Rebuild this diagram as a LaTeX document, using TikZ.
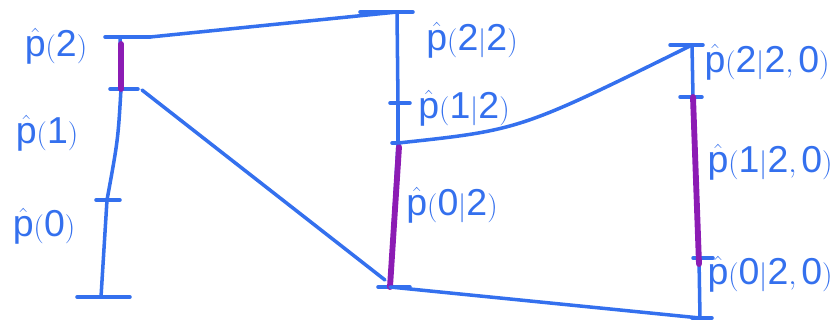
\documentclass[tikz,border=0pt]{standalone}
\usepackage{fontspec}
\setsansfont{Liberation Sans}
\usepackage{tikz}
\usetikzlibrary{positioning}

\definecolor{penblue}{RGB}{52,112,238}
\definecolor{penpurple}{RGB}{140,28,180}

\begin{document}
\begin{tikzpicture}[
    x=0.03cm, y=-0.03cm,
    stroke/.style={draw=penblue, line width=3pt, line cap=round},
    chosen/.style={draw=penpurple, line width=5pt, line cap=round},
    prob/.style={text=penblue, font=\fontsize{32}{38}\selectfont, inner sep=0pt}
]
    \useasboundingbox (0,0) rectangle (836,325);

    % left bar
    \coordinate (a2) at (120,37);
    \coordinate (a1) at (121,89);
    \coordinate (a0) at (107,200);
    \coordinate (abot) at (101,297);
    \draw[stroke] (105,37) -- (150,37);
    \draw[stroke] (110,89) -- (138,89);
    \draw[stroke] (96,200) -- (120,200);
    \draw[stroke] (77,297) -- (130,297);
    \draw[stroke] (a2) -- (a1) .. controls (118,140) .. (a0) -- (abot);
    \draw[chosen] (121,44) -- (a1);
    \node[prob] (l2) at (56,46) {$\hat{\mathsf{p}}\mathsf{(2)}$};
    \node[prob] (l1) at (47,133) {$\hat{\mathsf{p}}\mathsf{(1)}$};
    \node[prob] (l0) at (44,226) {$\hat{\mathsf{p}}\mathsf{(0)}$};

    % middle bar
    \coordinate (b2) at (397,12);
    \coordinate (b1) at (398,103);
    \coordinate (b0) at (398,143);
    \coordinate (bbot) at (390,287);
    \draw[stroke] (360,12) -- (413,12);
    \draw[stroke] (390,103) -- (410,103);
    \draw[stroke] (392,143) -- (400,143);
    \draw[stroke] (378,287) -- (410,287);
    \draw[stroke] (b2) -- (b1) -- (b0) -- (bbot);
    \draw[chosen] (399,147) -- (bbot);
    \node[prob] (m2) at (472,40) {$\hat{\mathsf{p}}\mathsf{(2|2)}$};
    \node[prob] (m1) at (464,108) {$\hat{\mathsf{p}}\mathsf{(1|2)}$};
    \node[prob] (m0) at (452,205) {$\hat{\mathsf{p}}\mathsf{(0|2)}$};

    % right bar
    \coordinate (c2) at (692,45);
    \coordinate (c1) at (693,97);
    \coordinate (c0) at (699,258);
    \coordinate (cbot) at (700,318);
    \draw[stroke] (670,45) -- (703,45);
    \draw[stroke] (680,97) -- (702,97);
    \draw[stroke] (693,258) -- (713,258);
    \draw[stroke] (692,318) -- (712,318);
    \draw[stroke] (c2) -- (c1) -- (c0) -- (cbot);
    \draw[chosen] (c1) -- (699,264);
    \node[prob] (r2) at (767,62) {$\hat{\mathsf{p}}\mathsf{(2|2,0)}$};
    \node[prob] (r1) at (770,162) {$\hat{\mathsf{p}}\mathsf{(1|2,0)}$};
    \node[prob] (r0) at (770,274) {$\hat{\mathsf{p}}\mathsf{(0|2,0)}$};

    % connectors between bars
    \draw[stroke] (150,37) -- (b2);
    \draw[stroke] (142,90) -- (385,280);
    \draw[stroke] (b0) .. controls (520,130) .. (c2);
    \draw[stroke] (bbot) -- (cbot);
\end{tikzpicture}
\end{document}
